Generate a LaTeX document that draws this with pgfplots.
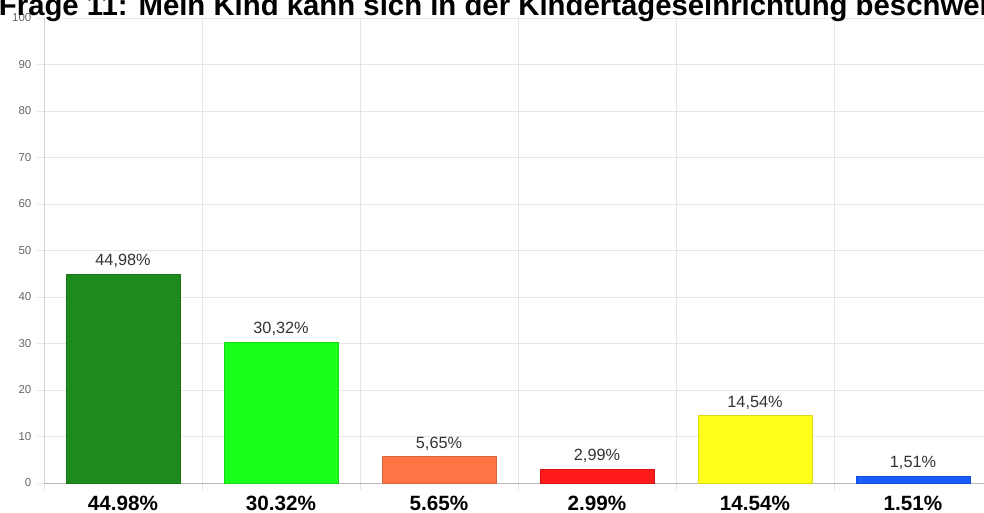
\documentclass[border=0pt]{standalone}
\usepackage{pgfplots}
\pgfplotsset{compat=1.18}
\usepackage{fontspec}
\setmainfont{Liberation Sans}
\definecolor{c1}{RGB}{28,138,28}
\definecolor{c2}{RGB}{26,255,26}
\definecolor{c3}{RGB}{255,117,69}
\definecolor{c4}{RGB}{255,26,26}
\definecolor{c5}{RGB}{255,255,26}
\definecolor{c6}{RGB}{26,92,255}
\definecolor{gridc}{RGB}{230,230,230}
\definecolor{tickc}{RGB}{102,102,102}
\definecolor{valc}{RGB}{51,51,51}
\begin{document}
\begin{tikzpicture}
\begin{axis}[
  at={(33pt,21.75pt)}, anchor=south west,
  scale only axis, width=711pt, height=348.75pt,
  xmin=-0.5, xmax=5.5, ymin=0, ymax=100,
  ybar, bar width=85.5pt, bar shift=0pt,
  axis x line=bottom, axis y line=left,
  axis line style={-, draw=gray!35},
  x axis line style={draw=gray!55},
  xtick={0,1,2,3,4,5},
  xticklabels={44.98\%,30.32\%,5.65\%,2.99\%,14.54\%,1.51\%},
  xticklabel style={font=\fontsize{15.5}{15.5}\selectfont\bfseries, text=black, yshift=-1.5pt},
  major x tick style={draw=none},
  minor xtick={-0.5,0.5,1.5,2.5,3.5,4.5,5.5},
  xminorgrids=true,
  minor x tick style={draw=gridc},
  minor tick length=5pt,
  ytick={0,10,...,100},
  ymajorgrids=true,
  major grid style={draw=gridc},
  minor grid style={draw=gridc},
  tick align=outside,
  major tick length=5pt,
  y tick style={draw=gridc},
  yticklabel style={font=\fontsize{8.6}{8.6}\selectfont, text=tickc, xshift=-1pt},
  /pgf/number format/assume math mode=true,
  nodes near coords={\pgfmathprintnumber[fixed,fixed zerofill,precision=2,use comma]{\pgfplotspointmeta}\%},
  nodes near coords style={font=\fontsize{12.2}{12.2}\selectfont, text=valc, yshift=1pt},
  clip=false,
]
\addplot[fill=c1, draw=c1!85!black, line width=0.5pt] coordinates {(0,44.98)};
\addplot[fill=c2, draw=c2!85!black, line width=0.5pt] coordinates {(1,30.32)};
\addplot[fill=c3, draw=c3!85!black, line width=0.5pt] coordinates {(2,5.65)};
\addplot[fill=c4, draw=c4!85!black, line width=0.5pt] coordinates {(3,2.99)};
\addplot[fill=c5, draw=c5!85!black, line width=0.5pt] coordinates {(4,14.54)};
\addplot[fill=c6, draw=c6!85!black, line width=0.5pt] coordinates {(5,1.51)};
\end{axis}
\node[anchor=base west, inner sep=0pt, font=\fontsize{22}{22}\selectfont\bfseries] at (-1pt,372.5pt) {Frage 11: Mein Kind kann sich in der Kindertageseinrichtung beschweren.};
\pgfresetboundingbox
\path[use as bounding box] (0,0) rectangle (738pt,384pt);
\end{tikzpicture}
\end{document}
